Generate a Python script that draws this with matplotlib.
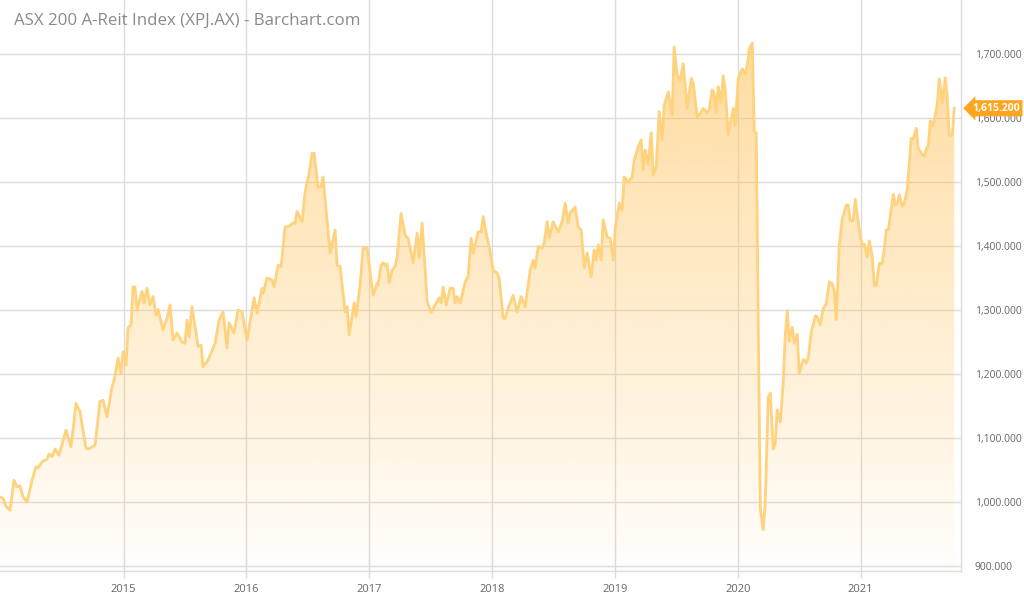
import numpy as np
import matplotlib
matplotlib.use("Agg")
import matplotlib.pyplot as plt
from matplotlib.colors import to_rgb

plt.rcParams['font.family'] = ['Open Sans', 'DejaVu Sans']

# XPJ.AX closing levels (decimal year, index level)
years = [
    2013.994, 2014.018, 2014.043, 2014.075, 2014.108, 2014.132, 2014.157, 2014.181, 2014.214, 2014.255,
    2014.287, 2014.303, 2014.336, 2014.377, 2014.393, 2014.417, 2014.442, 2014.474, 2014.531, 2014.572,
    2014.613, 2014.645, 2014.694, 2014.719, 2014.768, 2014.808, 2014.833, 2014.865, 2014.906, 2014.930,
    2014.955, 2014.979, 2014.996, 2015.020, 2015.036, 2015.061, 2015.077, 2015.093, 2015.110, 2015.150,
    2015.167, 2015.191, 2015.215, 2015.240, 2015.264, 2015.281, 2015.321, 2015.354, 2015.378, 2015.403,
    2015.435, 2015.476, 2015.500, 2015.517, 2015.533, 2015.557, 2015.582, 2015.606, 2015.631, 2015.647,
    2015.688, 2015.745, 2015.777, 2015.810, 2015.842, 2015.859, 2015.899, 2015.932, 2015.965, 2016.005,
    2016.062, 2016.087, 2016.127, 2016.136, 2016.168, 2016.209, 2016.225, 2016.258, 2016.282, 2016.315,
    2016.347, 2016.380, 2016.396, 2016.412, 2016.453, 2016.478, 2016.510, 2016.535, 2016.551, 2016.583,
    2016.608, 2016.624, 2016.681, 2016.722, 2016.738, 2016.763, 2016.803, 2016.820, 2016.836, 2016.877,
    2016.893, 2016.925, 2016.950, 2016.982, 2017.031, 2017.064, 2017.072, 2017.096, 2017.113, 2017.129,
    2017.145, 2017.162, 2017.186, 2017.210, 2017.227, 2017.259, 2017.292, 2017.316, 2017.357, 2017.390,
    2017.406, 2017.430, 2017.471, 2017.504, 2017.536, 2017.569, 2017.585, 2017.601, 2017.626, 2017.658,
    2017.683, 2017.699, 2017.715, 2017.740, 2017.781, 2017.805, 2017.829, 2017.846, 2017.886, 2017.911,
    2017.927, 2017.952, 2017.976, 2018.009, 2018.041, 2018.057, 2018.090, 2018.106, 2018.131, 2018.171,
    2018.204, 2018.236, 2018.269, 2018.310, 2018.334, 2018.351, 2018.375, 2018.408, 2018.424, 2018.448,
    2018.465, 2018.497, 2018.538, 2018.570, 2018.595, 2018.619, 2018.636, 2018.676, 2018.701, 2018.725,
    2018.750, 2018.774, 2018.807, 2018.831, 2018.847, 2018.864, 2018.888, 2018.904, 2018.937, 2018.961,
    2018.986, 2019.002, 2019.035, 2019.059, 2019.075, 2019.108, 2019.140, 2019.157, 2019.189, 2019.214,
    2019.230, 2019.246, 2019.271, 2019.295, 2019.311, 2019.336, 2019.360, 2019.385, 2019.401, 2019.434,
    2019.466, 2019.482, 2019.507, 2019.531, 2019.556, 2019.588, 2019.621, 2019.637, 2019.670, 2019.686,
    2019.719, 2019.751, 2019.767, 2019.792, 2019.808, 2019.824, 2019.841, 2019.865, 2019.881, 2019.898,
    2019.922, 2019.963, 2019.979, 2020.004, 2020.036, 2020.061, 2020.077, 2020.093, 2020.118, 2020.134,
    2020.150, 2020.183, 2020.207, 2020.223, 2020.248, 2020.264, 2020.289, 2020.305, 2020.321, 2020.346,
    2020.370, 2020.386, 2020.403, 2020.419, 2020.443, 2020.460, 2020.484, 2020.500, 2020.533, 2020.557,
    2020.574, 2020.598, 2020.614, 2020.631, 2020.647, 2020.671, 2020.696, 2020.720, 2020.745, 2020.769,
    2020.785, 2020.802, 2020.826, 2020.850, 2020.883, 2020.899, 2020.916, 2020.940, 2020.956, 2020.989,
    2021.013, 2021.030, 2021.054, 2021.070, 2021.095, 2021.111, 2021.127, 2021.152, 2021.176, 2021.192,
    2021.209, 2021.225, 2021.266, 2021.282, 2021.298, 2021.315, 2021.339, 2021.355, 2021.380, 2021.412,
    2021.429, 2021.453, 2021.469, 2021.502, 2021.518, 2021.534, 2021.551, 2021.567, 2021.591, 2021.608,
    2021.624, 2021.640, 2021.665, 2021.689, 2021.705, 2021.722, 2021.746, 2021.762,
]
levels = [
    1008, 1006, 993, 987, 1034, 1024, 1025, 1008, 1000, 1034,
    1055, 1053, 1063, 1067, 1075, 1071, 1083, 1073, 1112, 1086,
    1154, 1141, 1084, 1083, 1089, 1157, 1159, 1133, 1180, 1196,
    1225, 1201, 1235, 1214, 1272, 1277, 1336, 1336, 1300, 1329,
    1311, 1334, 1308, 1321, 1292, 1301, 1269, 1287, 1308, 1253,
    1264, 1250, 1248, 1284, 1258, 1305, 1274, 1243, 1245, 1211,
    1222, 1248, 1284, 1297, 1241, 1280, 1264, 1300, 1297, 1253,
    1319, 1295, 1334, 1326, 1350, 1347, 1336, 1370, 1368, 1430,
    1431, 1436, 1436, 1454, 1438, 1485, 1514, 1545, 1545, 1491,
    1493, 1508, 1389, 1425, 1370, 1368, 1297, 1305, 1261, 1311,
    1290, 1339, 1397, 1397, 1323, 1342, 1339, 1370, 1374, 1370,
    1372, 1343, 1362, 1368, 1383, 1451, 1417, 1412, 1374, 1420,
    1381, 1436, 1313, 1296, 1308, 1319, 1311, 1336, 1308, 1334,
    1334, 1311, 1321, 1311, 1344, 1353, 1412, 1389, 1422, 1422,
    1446, 1420, 1399, 1362, 1358, 1350, 1287, 1287, 1303, 1323,
    1297, 1321, 1305, 1362, 1378, 1366, 1399, 1397, 1405, 1438,
    1412, 1438, 1422, 1438, 1467, 1436, 1452, 1461, 1430, 1425,
    1366, 1389, 1352, 1394, 1378, 1402, 1378, 1441, 1414, 1412,
    1378, 1428, 1467, 1456, 1508, 1500, 1508, 1534, 1555, 1566,
    1519, 1550, 1527, 1577, 1511, 1524, 1610, 1566, 1620, 1641,
    1605, 1711, 1667, 1659, 1685, 1615, 1662, 1655, 1602, 1605,
    1615, 1608, 1613, 1644, 1638, 1610, 1649, 1624, 1666, 1644,
    1574, 1615, 1588, 1662, 1677, 1669, 1683, 1708, 1717, 1579,
    1577, 990, 957, 996, 1164, 1170, 1083, 1091, 1144, 1125,
    1187, 1259, 1299, 1251, 1273, 1248, 1262, 1201, 1223, 1217,
    1226, 1266, 1277, 1291, 1289, 1277, 1302, 1310, 1344, 1341,
    1330, 1285, 1400, 1442, 1464, 1464, 1439, 1440, 1473, 1425,
    1400, 1403, 1383, 1408, 1383, 1338, 1338, 1373, 1373, 1394,
    1425, 1425, 1481, 1464, 1467, 1480, 1462, 1466, 1490, 1568,
    1568, 1584, 1552, 1543, 1540, 1552, 1557, 1596, 1588, 1605,
    1622, 1661, 1624, 1663, 1633, 1573, 1573, 1615.2,
]
year_ticks = [2015, 2016, 2017, 2018, 2019, 2020, 2021]
level_ticks = [900, 1000, 1100, 1200, 1300, 1400, 1500, 1600, 1700]
last_price = 1615.2
title = "ASX 200 A-Reit Index (XPJ.AX) - Barchart.com"

x = np.array(years)
y = np.array(levels, dtype=float)

fig = plt.figure(figsize=(10.24, 5.95), dpi=100)
ax = fig.add_axes([0.0, 1 - 571 / 595, 961 / 1024, 571 / 595])

grid_c = "#dcdcdc"
x0, x1 = 2013.994, 2021.817
y0, y1 = 892.2, 1784.4
ax.set_xlim(x0, x1)
ax.set_ylim(y0, y1)

# gradient fill under the line
poly = ax.fill_between(x, y, y0, color="none", lw=0)
base = to_rgb("#FFC35A")
grad = np.zeros((256, 1, 4))
grad[:, 0, :3] = base
grad[:, 0, 3] = np.linspace(0.02, 0.58, 256)
img = ax.imshow(grad, aspect="auto", extent=[x0, x1, y0, 1720],
                origin="lower", zorder=1)
clip = poly.get_paths()[0]
img.set_clip_path(clip, transform=ax.transData)

ax.plot(x, y, color="#FFD27E", lw=2.0, zorder=3, solid_joinstyle="round")

ax.set_xticks(year_ticks)
ax.set_xticklabels([str(t) for t in year_ticks])
ax.set_yticks(level_ticks)
ax.set_yticklabels([f"{v:,.3f}" for v in level_ticks])
ax.yaxis.tick_right()
ax.grid(True, color=grid_c, lw=1.0, zorder=0)
ax.set_axisbelow(True)
ax.tick_params(axis="y", length=0, pad=10, labelsize=7.5, labelcolor="#666666")
ax.tick_params(axis="x", length=5, width=1, color=grid_c, pad=4,
               labelsize=8, labelcolor="#666666")
for s in ["top", "left"]:
    ax.spines[s].set_visible(False)
for s in ["right", "bottom"]:
    ax.spines[s].set_color(grid_c)
    ax.spines[s].set_linewidth(1.0)

ax.text(0.014, 0.965, title, transform=fig.transFigure, ha="left", va="center",
        fontsize=12.2, color="#8a8a8a")

# last-price badge
ax.annotate(f"{last_price:,.3f}", xy=(1.0, last_price),
            xycoords=("axes fraction", "data"),
            xytext=(8, 0), textcoords="offset points",
            ha="left", va="center", fontsize=7.5, color="white", weight="bold",
            bbox=dict(boxstyle="larrow,pad=0.25", fc="#FFA51F", ec="none"),
            annotation_clip=False, zorder=5)

fig.savefig("out.png", dpi=100)
